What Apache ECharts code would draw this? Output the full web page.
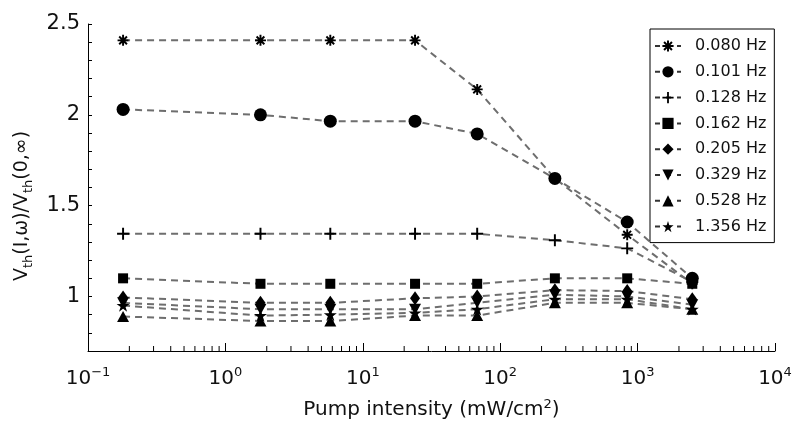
<!DOCTYPE html>
<html>
<head>
<meta charset="utf-8">
<script src="https://cdn.jsdelivr.net/npm/echarts@6/dist/echarts.min.js"></script>
<style>html,body{margin:0;padding:0;background:#fff;}#c{width:795px;height:425px;}</style>
</head>
<body>
<div id="c"></div>
<script>
// ---- data ----
var intensities = [0.18, 1.8, 5.8, 24, 68, 250, 840, 2500];
var freqLabels = ['0.080 Hz', '0.101 Hz', '0.128 Hz', '0.162 Hz', '0.205 Hz', '0.329 Hz', '0.528 Hz', '1.356 Hz'];
var v080 = [2.41, 2.41, 2.41, 2.41, 2.14, 1.65, 1.34, 1.07];
var v101 = [2.03, 2.00, 1.965, 1.965, 1.895, 1.65, 1.41, 1.10];
var v128 = [1.345, 1.345, 1.345, 1.345, 1.345, 1.31, 1.265, 1.08];
var v162 = [1.10, 1.07, 1.07, 1.07, 1.07, 1.10, 1.10, 1.07];
var v205 = [0.995, 0.965, 0.965, 0.99, 1.00, 1.035, 1.03, 0.985];
var v329 = [0.965, 0.93, 0.93, 0.93, 0.965, 1.01, 1.00, 0.955];
var v528 = [0.89, 0.865, 0.865, 0.895, 0.895, 0.965, 0.965, 0.93];
var v1356 = [0.95, 0.895, 0.90, 0.91, 0.93, 0.985, 0.985, 0.93];
var yTickLabels = [1, 1.5, 2, 2.5];
var xMinorTicks = [];
[-1, 0, 1, 2, 3].forEach(function (k) { for (var m = 2; m <= 9; m++) xMinorTicks.push(m * Math.pow(10, k)); });

// ---- styling ----
var FONT = "'DejaVu Sans', sans-serif";
var asterisk = 'path://M-1.4,-8 L1.4,-8 L1.4,8 L-1.4,8 Z M-8,1.4 L-8,-1.4 L8,-1.4 L8,1.4 Z M-6.647,-4.667 L-4.667,-6.647 L6.647,4.667 L4.667,6.647 Z M-4.667,6.647 L-6.647,4.667 L4.667,-6.647 L6.647,-4.667 Z';
var plus = 'path://M-1.3,-8 L1.3,-8 L1.3,-1.3 L8,-1.3 L8,1.3 L1.3,1.3 L1.3,8 L-1.3,8 L-1.3,1.3 L-8,1.3 L-8,-1.3 L-1.3,-1.3 Z';
var star = 'path://M0,-10 L2.245,-3.09 L9.511,-3.09 L3.633,1.18 L5.878,8.09 L0,3.82 L-5.878,8.09 L-3.633,1.18 L-9.511,-3.09 L-2.245,-3.09 Z';

var seriesDefs = [
  { vals: v080, symbol: asterisk, size: 11 },
  { vals: v101, symbol: 'circle', size: 13 },
  { vals: v128, symbol: plus, size: 12 },
  { vals: v162, symbol: 'rect', size: 10 },
  { vals: v205, symbol: 'diamond', size: [10, 14] },
  { vals: v329, symbol: 'triangle', size: [12, 11], rotate: 180 },
  { vals: v528, symbol: 'triangle', size: [12, 11] },
  { vals: v1356, symbol: star, size: 13 }
];

var series = seriesDefs.map(function (d, i) {
  return {
    name: freqLabels[i],
    type: 'line',
    data: intensities.map(function (x, j) { return [x, d.vals[j]]; }),
    symbol: d.symbol,
    symbolSize: d.size,
    symbolRotate: d.rotate || 0,
    symbolKeepAspect: true,
    showAllSymbol: true,
    itemStyle: { color: '#000' },
    lineStyle: { color: '#6e6e6e', width: 2, type: [7, 5] },
    z: 2
  };
});

series.push({
  type: 'custom',
  silent: true,
  data: xMinorTicks.map(function (v) { return [v, 0.7]; }),
  renderItem: function (params, api) {
    var p = api.coord([api.value(0), api.value(1)]);
    return { type: 'line', shape: { x1: p[0], y1: p[1], x2: p[0], y2: p[1] - 5 }, style: { stroke: '#000', lineWidth: 1 } };
  },
  z: 5
});

var chart = echarts.init(document.getElementById('c'), null, { renderer: 'canvas' });
chart.setOption({
  animation: false,
  backgroundColor: '#fff',
  textStyle: { fontFamily: FONT },
  grid: { left: 88, right: 20, top: 24, bottom: 73 },
  legend: {
    data: freqLabels,
    orient: 'vertical',
    left: 650,
    top: 29,
    padding: [9, 8, 8, 4],
    itemWidth: 26,
    itemHeight: 14,
    itemGap: 9.8,
    borderColor: '#000',
    borderWidth: 1,
    borderRadius: 0,
    backgroundColor: '#fff',
    lineStyle: { color: '#333', type: [5, 6] },
    textStyle: { fontFamily: FONT, fontSize: 16, color: '#111', padding: [0, 0, 0, 9] }
  },
  xAxis: {
    type: 'log',
    logBase: 10,
    min: 0.1,
    max: 10000,
    axisLine: { show: true, onZero: false, lineStyle: { color: '#000', width: 1 } },
    axisTick: { show: true, inside: true, length: 8, lineStyle: { color: '#000' } },
    splitLine: { show: false },
    minorTick: { show: false },
    axisLabel: {
      margin: 15,
      color: '#111',
      formatter: function (v) {
        var e = Math.round(Math.log(v) / Math.LN10);
        return '{b|10}{s|' + (e < 0 ? '\u2212' + (-e) : e) + '}';
      },
      rich: {
        b: { fontFamily: FONT, fontSize: 20, lineHeight: 26, color: '#111' },
        s: { fontFamily: FONT, fontSize: 13, lineHeight: 12, verticalAlign: 'top', color: '#111' }
      }
    },
    name: '{n|Pump intensity (mW/cm}{s|2}{n|)}',
    nameLocation: 'middle',
    nameGap: 47,
    nameTextStyle: {
      rich: {
        n: { fontFamily: FONT, fontSize: 20, lineHeight: 24, color: '#111' },
        s: { fontFamily: FONT, fontSize: 13, lineHeight: 12, verticalAlign: 'top', color: '#111' }
      }
    }
  },
  yAxis: {
    type: 'value',
    min: 0.7,
    max: 2.5,
    interval: 0.1,
    axisLine: { show: true, onZero: false, lineStyle: { color: '#000', width: 1 } },
    axisTick: { show: true, inside: true, length: 4, lineStyle: { color: '#000' } },
    splitLine: { show: false },
    axisLabel: {
      margin: 8,
      fontFamily: FONT,
      fontSize: 21,
      color: '#111',
      formatter: function (v) {
        for (var i = 0; i < yTickLabels.length; i++) {
          if (Math.abs(v - yTickLabels[i]) < 1e-6) return String(yTickLabels[i]);
        }
        return '';
      }
    }
  },
  graphic: [{
    type: 'text',
    x: 22,
    y: 206,
    rotation: Math.PI / 2,
    style: {
      text: '{n|V}{s|th}{n|(I,\u03c9)/V}{s|th}{n|(0,\u221e)}',
      align: 'center',
      verticalAlign: 'middle',
      rich: {
        n: { fontFamily: FONT, fontSize: 19, lineHeight: 26, fill: '#111' },
        s: { fontFamily: FONT, fontSize: 13, lineHeight: 13, verticalAlign: 'bottom', fill: '#111' }
      }
    }
  }],
  series: series
});
</script>
</body>
</html>
